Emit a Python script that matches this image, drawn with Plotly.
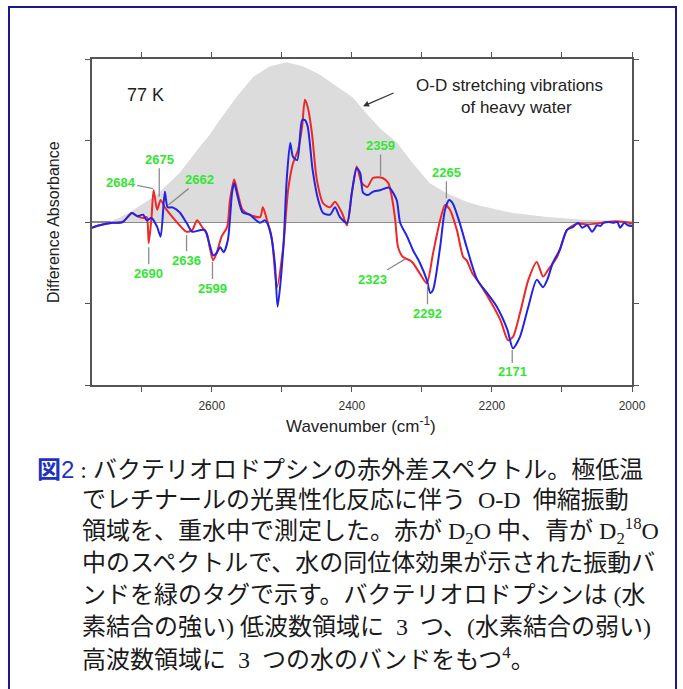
import plotly.graph_objects as go

# ---- spectra: wavenumber (cm-1) and difference absorbance (arb. units) ----
red_wn = [2771, 2760, 2741, 2727, 2714, 2706, 2698, 2693, 2690, 2686, 2683, 2678, 2673, 2667,
          2656, 2646, 2636, 2628, 2621, 2614, 2607, 2603, 2598, 2593, 2586, 2578, 2574, 2568,
          2563, 2556, 2546, 2531, 2527, 2521, 2514, 2507, 2498, 2491, 2484, 2477, 2471, 2467,
          2463, 2457, 2450, 2441, 2431, 2424, 2414, 2407, 2400, 2393, 2386, 2378, 2370, 2363,
          2356, 2348, 2343, 2338, 2334, 2327, 2317, 2313, 2303, 2293, 2284, 2274, 2267, 2260,
          2250, 2241, 2236, 2228, 2221, 2203, 2188, 2177, 2170, 2160, 2148, 2136, 2127, 2120,
          2107, 2093, 2084, 2077, 2064, 2050, 2036, 2024, 2010, 2000]
red_abs = [-0.07, -0.04, -0.01, 0.00, 0.11, 0.07, 0.05, 0.06, -0.26, 0.06, 0.39, 0.15, 0.27, 0.18,
           0.06, -0.04, -0.12, -0.10, 0.02, -0.06, -0.14, -0.31, -0.47, -0.38, -0.18, -0.06, 0.27, 0.52,
           0.36, 0.15, 0.09, 0.06, 0.18, 0.02, -0.22, -0.80, -0.31, 0.39, 0.72, 0.88, 1.17, 1.50,
           1.41, 1.09, 0.52, 0.23, 0.18, 0.25, 0.11, -0.04, 0.36, 0.68, 0.48, 0.43, 0.54, 0.55,
           0.54, 0.48, 0.31, 0.02, -0.31, -0.43, -0.47, -0.50, -0.63, -0.75, -0.38, 0.02, 0.21, 0.15,
           -0.10, -0.43, -0.47, -0.63, -0.71, -0.96, -1.20, -1.45, -1.41, -1.12, -0.71, -0.49, -0.67, -0.59,
           -0.43, -0.10, -0.04, -0.02, -0.03, -0.02, 0.00, 0.01, 0.00, -0.02]

blue_wn = [2771, 2760, 2741, 2727, 2714, 2706, 2698, 2693, 2686, 2678, 2673, 2667, 2663, 2656,
           2646, 2636, 2628, 2617, 2610, 2603, 2598, 2593, 2588, 2583, 2577, 2571, 2568, 2563,
           2556, 2546, 2531, 2524, 2517, 2510, 2506, 2498, 2493, 2488, 2484, 2478, 2471, 2467,
           2463, 2456, 2448, 2441, 2431, 2424, 2417, 2407, 2400, 2393, 2388, 2384, 2377, 2370,
           2360, 2350, 2346, 2336, 2331, 2321, 2313, 2303, 2293, 2288, 2284, 2274, 2267, 2261,
           2256, 2246, 2236, 2221, 2207, 2193, 2178, 2170, 2160, 2148, 2136, 2127, 2121, 2113,
           2103, 2093, 2084, 2077, 2071, 2064, 2057, 2050, 2045, 2041, 2033, 2026, 2021, 2017,
           2011, 2006, 2000]
blue_abs = [-0.07, -0.04, -0.01, 0.00, 0.11, 0.07, 0.09, 0.02, 0.05, -0.06, -0.18, 0.37, 0.18, 0.18,
            0.12, -0.01, -0.12, -0.10, -0.10, -0.28, -0.41, -0.38, -0.31, -0.37, -0.22, 0.36, 0.48, 0.31,
            0.12, 0.09, -0.01, 0.02, -0.10, -0.50, -1.04, -0.34, 0.52, 0.97, 0.80, 0.76, 1.25, 1.25,
            1.17, 0.64, 0.27, 0.11, 0.09, 0.18, 0.06, -0.01, 0.36, 0.66, 0.60, 0.36, 0.33, 0.37,
            0.39, 0.42, 0.42, 0.27, -0.01, -0.18, -0.34, -0.50, -0.71, -0.87, -0.83, -0.31, 0.15, 0.27,
            0.23, -0.01, -0.31, -0.71, -0.87, -1.04, -1.32, -1.55, -1.41, -1.04, -0.71, -0.80, -0.71, -0.50,
            -0.34, -0.10, -0.06, -0.01, -0.07, -0.04, -0.12, -0.04, -0.05, -0.01, 0.00, -0.01, 0.00, -0.07,
            -0.01, -0.04, -0.05]

# broad O-D stretching band of bulk heavy water (grey envelope)
water_wn = [2745, 2717, 2679, 2646, 2621, 2603, 2589, 2564, 2541, 2517, 2493, 2470, 2446, 2421,
            2399, 2379, 2360, 2336, 2313, 2289, 2264, 2236, 2217, 2170, 2121, 2074, 2027, 2000]
water_abs = [0.0, 0.12, 0.33, 0.60, 0.88, 1.07, 1.25, 1.54, 1.78, 1.91, 1.96, 1.91, 1.81, 1.66,
             1.53, 1.33, 1.15, 0.98, 0.72, 0.48, 0.35, 0.25, 0.20, 0.11, 0.06, 0.03, 0.01, 0.005]

# green band tags: (text, tip wavenumber, tip absorbance, label wavenumber, label absorbance)
tag_text = ["2684", "2675", "2662", "2690", "2636", "2599", "2359", "2265", "2323", "2292", "2171"]
tag_tip_wn = [2684, 2675, 2662, 2690, 2636, 2599, 2359, 2265, 2323, 2292, 2171]
tag_tip_abs = [0.41, 0.31, 0.21, -0.31, -0.16, -0.49, 0.56, 0.29, -0.45, -0.76, -1.57]
tag_lab_wn = [2730, 2675, 2617, 2690, 2636, 2599, 2359, 2265, 2371, 2292, 2171]
tag_lab_abs = [0.49, 0.77, 0.52, -0.63, -0.47, -0.81, 0.94, 0.61, -0.70, -1.12, -1.84]

x_ticks = [2700, 2600, 2500, 2400, 2300, 2200, 2100, 2000]
x_ticktext = ["", "2600", "", "2400", "", "2200", "", "2000"]

caption_lines = [
    "<span style='color:#2233bb'><b>図</b><span style='font-family:Arial, Liberation Sans'>2</span></span> : "
    "バクテリオロドプシンの赤外差スペクトル。極低温",
    "でレチナールの光異性化反応に伴う  O-D  伸縮振動",
    "領域を、重水中で測定した。赤が D<sub>2</sub>O 中、青が D<sub>2</sub><sup>18</sup>O",
    "中のスペクトルで、水の同位体効果が示された振動バ",
    "ンドを緑のタグで示す。バクテリオロドプシンは (水",
    "素結合の強い) 低波数領域に  3  つ、(水素結合の弱い)",
    "高波数領域に  3  つの水のバンドをもつ<sup>4</sup>。",
]

# ---- page geometry (pixels) ----
W, H = 683, 689
PL, PR, PT, PB = 92, 632, 59, 385


def px_x(px):
    return (px - PL) / (PR - PL)


def px_y(py):
    return (PB - py) / (PB - PT)


SANS = "Arial, Liberation Sans, sans-serif"
CAP_FONT = "Liberation Serif, Noto Sans CJK JP, serif"

fig = go.Figure()

fig.add_trace(go.Scatter(
    x=water_wn, y=water_abs, mode="lines", fill="tozeroy",
    fillcolor="rgb(220,220,220)", line=dict(width=0, color="rgb(220,220,220)"),
    hoverinfo="skip", showlegend=False))

fig.add_trace(go.Scatter(
    x=red_wn, y=red_abs, mode="lines", name="D2O",
    line=dict(color="rgb(236,40,40)", width=2, shape="spline", smoothing=0.7),
    showlegend=False))

fig.add_trace(go.Scatter(
    x=blue_wn, y=blue_abs, mode="lines", name="D2 18O",
    line=dict(color="rgb(35,35,225)", width=2, shape="spline", smoothing=0.7),
    showlegend=False))

annotations = []

for t, xw, yw, lx, ly in zip(tag_text, tag_tip_wn, tag_tip_abs, tag_lab_wn, tag_lab_abs):
    annotations.append(dict(
        x=xw, y=yw, xref="x", yref="y", ax=lx, ay=ly, axref="x", ayref="y",
        text=f"<b>{t}</b>", showarrow=True, arrowhead=0, arrowwidth=1.3,
        arrowcolor="rgb(140,140,140)", standoff=0,
        font=dict(family=SANS, size=13, color="rgb(50,230,50)")))


def note(px, py, text, size, **kw):
    return dict(x=px_x(px), y=px_y(py), xref="paper", yref="paper",
                xanchor="center", yanchor="middle", text=text, showarrow=False,
                font=dict(family=SANS, size=size, color="#222"), **kw)


# temperature and water-band notes
annotations.append(note(145, 95, "77 K", 18))
annotations.append(note(509, 86, "O-D stretching vibrations", 17))
annotations.append(note(516, 107, "of heavy water", 17))
annotations.append(dict(x=2384, y=1.42, xref="x", yref="y", ax=32, ay=-14,
                        text="", showarrow=True, arrowhead=2, arrowsize=1,
                        arrowwidth=1.2, arrowcolor="#333"))

# axis titles
annotations.append(note(53, 222, "Difference Absorbance", 16, textangle=-90))
annotations.append(note(361, 425, "Wavenumber (cm<sup>-1</sup>)", 17))

# caption
cap_y = [469, 500, 531, 563, 595, 627, 658]
for i, (line, cy) in enumerate(zip(caption_lines, cap_y)):
    annotations.append(dict(x=px_x(35 if i == 0 else 80), y=px_y(cy),
                            xref="paper", yref="paper", xanchor="left", yanchor="middle",
                            text=line, showarrow=False,
                            font=dict(family=CAP_FONT, size=24, color="#1a1a1a")))

shapes = [dict(type="rect", xref="paper", yref="paper",
               x0=px_x(9), x1=px_x(676), y0=px_y(740), y1=px_y(7),
               line=dict(color="rgb(25,25,140)", width=2), layer="above")]

fig.update_layout(
    width=W, height=H,
    margin=dict(l=PL, r=W - PR, t=PT, b=H - PB),
    paper_bgcolor="white", plot_bgcolor="white",
    annotations=annotations, shapes=shapes,
    xaxis=dict(range=[2771, 2000], tickvals=x_ticks, ticktext=x_ticktext,
               ticks="outside", ticklen=5, tickwidth=1.3, tickcolor="#555",
               showline=True, linecolor="#555", linewidth=1.5, mirror="ticks",
               showgrid=False, zeroline=False, ticklabelstandoff=4,
               tickfont=dict(family=SANS, size=12, color="#333")),
    yaxis=dict(range=[-2, 2], tickvals=[-2, -1, 0, 1, 2], showticklabels=False,
               ticks="outside", ticklen=5, tickwidth=1.3, tickcolor="#555",
               showline=True, linecolor="#555", linewidth=1.5, mirror="ticks",
               showgrid=False, zeroline=True, zerolinecolor="rgb(140,140,140)",
               zerolinewidth=1.5),
)

fig.write_html("out.html")
